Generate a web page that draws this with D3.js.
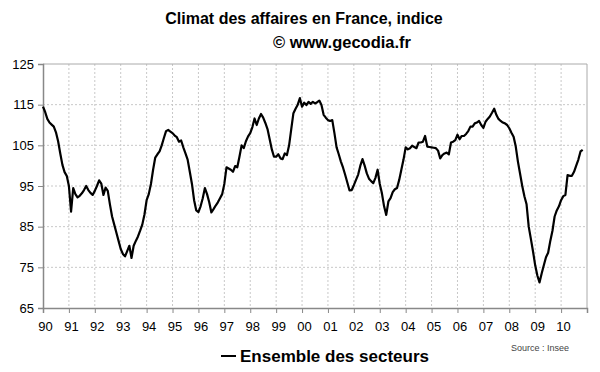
<!DOCTYPE html>
<html>
<head>
<meta charset="utf-8">
<script src="https://cdn.jsdelivr.net/npm/d3@7"></script>
<style>
  body { margin: 0; background: #fff; }
  svg { font-family: "Liberation Sans", Arial, sans-serif; }
</style>
</head>
<body>
<svg id="chart" width="600" height="372"></svg>
<script>
// monthly index, jan 1990 -> nov 2010
var startYear = 1990;
var values = [
    114.5, 113.2, 111.5, 110.6, 110.1, 109.6, 108.2, 106.0, 103.0, 100.2, 98.4, 97.5,   // 1990
    95.0, 88.7, 94.5, 93.0, 92.2, 92.6, 93.2, 94.0, 95.0, 94.0, 93.3, 92.8,             // 1991
    93.8, 95.0, 96.4, 95.6, 92.8, 94.6, 93.8, 90.5, 87.5, 85.5, 83.5, 81.5,             // 1992
    79.5, 78.3, 77.7, 79.0, 80.3, 77.3, 80.3, 81.5, 82.6, 84.0, 85.5, 88.0,             // 1993
    91.5, 93.0, 95.5, 99.0, 102.0, 102.8, 103.5, 105.0, 106.8, 108.5, 108.8, 108.4,     // 1994
    108.0, 107.4, 107.0, 105.9, 106.2, 104.5, 103.0, 101.5, 98.5, 95.5, 91.5, 89.0,     // 1995
    88.6, 90.0, 92.0, 94.5, 93.0, 91.0, 88.5, 89.3, 90.2, 91.0, 92.0, 93.0,             // 1996
    95.5, 99.6, 99.3, 99.0, 98.5, 99.9, 99.6, 102.2, 105.0, 104.3, 106.0, 107.2,        // 1997
    108.0, 109.5, 111.6, 110.0, 111.6, 112.7, 111.8, 110.5, 109.0, 106.5, 104.0, 102.2, // 1998
    102.2, 102.8, 101.8, 101.6, 103.0, 102.6, 105.0, 109.0, 112.9, 114.0, 115.0, 116.6, // 1999
    114.5, 115.5, 114.9, 115.7, 115.2, 115.7, 115.3, 115.6, 116.0, 114.9, 112.5, 111.8, // 2000
    111.2, 111.0, 111.2, 108.0, 104.5, 102.8, 101.0, 99.5, 97.7, 95.8, 93.9, 94.0,      // 2001
    95.2, 96.5, 97.8, 100.0, 101.6, 100.0, 98.1, 96.8, 96.2, 95.7, 97.0, 99.0,          // 2002
    95.5, 93.2, 90.0, 87.9, 91.2, 92.0, 93.5, 94.2, 94.5, 96.5, 99.0, 101.5,            // 2003
    104.5, 104.0, 104.3, 104.9, 104.6, 104.3, 105.7, 105.7, 105.9, 107.3, 104.7, 104.6, // 2004
    104.5, 104.4, 104.3, 103.7, 101.8, 102.6, 103.0, 103.2, 102.8, 105.7, 105.9, 106.3, // 2005
    107.6, 106.5, 107.3, 107.3, 107.8, 108.5, 109.6, 109.6, 110.4, 110.6, 111.0, 110.0, // 2006
    109.3, 110.8, 111.5, 112.1, 113.0, 114.0, 112.5, 111.5, 111.0, 110.6, 110.4, 110.0, // 2007
    109.2, 108.1, 107.1, 104.7, 101.0, 98.0, 95.0, 92.5, 90.5, 85.0, 82.0, 78.9,        // 2008
    75.5, 73.0, 71.3, 73.5, 75.5, 77.5, 78.6, 81.5, 84.0, 87.5, 89.0, 90.0,             // 2009
    91.5, 92.5, 92.8, 97.7, 97.5, 97.5, 98.5, 100.0, 101.5, 103.5, 103.9                // 2010
];
var yTicks = [65, 75, 85, 95, 105, 115, 125];
var xTickYears = d3.range(1990, 2012);
var xLabels = ["90", "91", "92", "93", "94", "95", "96", "97", "98", "99", "00",
    "01", "02", "03", "04", "05", "06", "07", "08", "09", "10"];

var titleText = "Climat des affaires en France, indice";
var subtitleText = "\u00a9 www.gecodia.fr";
var legendText = "Ensemble des secteurs";
var sourceText = "Source : Insee";

var svg = d3.select("#chart");
var margin = { top: 64, left: 43, right: 13, bottom: 64 };
var width = 600 - margin.left - margin.right,
    height = 372 - margin.top - margin.bottom;

var g = svg.append("g")
    .attr("transform", "translate(" + margin.left + "," + margin.top + ")");

var x = d3.scaleLinear().domain([1990, 2011]).range([0, width]);
var y = d3.scaleLinear().domain([65, 125]).range([height, 0]);

// grid
g.append("g").selectAll("line").data(yTicks.slice(1, -1)).join("line")
    .attr("x1", 0).attr("x2", width)
    .attr("y1", d => y(d)).attr("y2", d => y(d))
    .attr("stroke", "#c8c8c8").attr("stroke-dasharray", "2,2");
g.append("g").selectAll("line").data(xTickYears.slice(1, -1)).join("line")
    .attr("y1", 0).attr("y2", height)
    .attr("x1", d => x(d)).attr("x2", d => x(d))
    .attr("stroke", "#c8c8c8").attr("stroke-dasharray", "2,2");

// frame top / right
g.append("path")
    .attr("d", "M0,0H" + width + "V" + height)
    .attr("fill", "none").attr("stroke", "#aaa");

// axes
var yAxis = g.append("g")
    .call(d3.axisLeft(y).tickValues(yTicks).tickSize(5).tickPadding(4));
var xAxis = g.append("g")
    .attr("transform", "translate(0," + height + ")")
    .call(d3.axisBottom(x).tickValues(xTickYears).tickSize(5).tickPadding(9)
        .tickFormat((d, i) => xLabels[i] || ""));
[yAxis, xAxis].forEach(function (a) {
    a.selectAll("path, line").attr("stroke", "#888");
    a.selectAll("text").attr("fill", "#000").style("font-size", "13px");
    a.select(".domain").attr("stroke-width", 1.5);
});
xAxis.selectAll("text").attr("dx", 2);

// line
var line = d3.line()
    .x((d, i) => x(startYear + i / 12))
    .y(d => y(d));
g.append("path")
    .datum(values)
    .attr("fill", "none")
    .attr("stroke", "#000")
    .attr("stroke-width", 2.2)
    .attr("stroke-linejoin", "round")
    .attr("d", line);

// titles
svg.append("text").attr("x", 304).attr("y", 24)
    .attr("text-anchor", "middle")
    .style("font-size", "16px").style("font-weight", "bold")
    .text(titleText);
svg.append("text").attr("x", 342).attr("y", 48)
    .attr("text-anchor", "middle")
    .style("font-size", "16.5px").style("font-weight", "bold")
    .text(subtitleText);

// legend
svg.append("line").attr("x1", 221).attr("x2", 236).attr("y1", 356).attr("y2", 356)
    .attr("stroke", "#000").attr("stroke-width", 2);
svg.append("text").attr("x", 240).attr("y", 362)
    .style("font-size", "17px").style("font-weight", "bold")
    .text(legendText);
svg.append("text").attr("x", 569).attr("y", 351)
    .attr("text-anchor", "end")
    .style("font-size", "9px").attr("fill", "#444")
    .text(sourceText);
</script>
</body>
</html>
